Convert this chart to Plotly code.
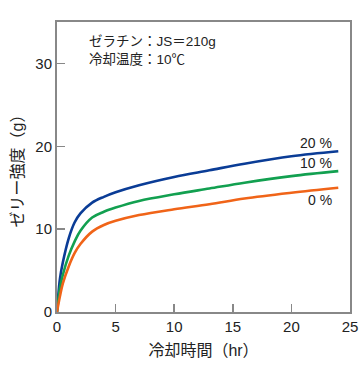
import plotly.graph_objects as go

t = [0, 0.25, 0.5, 1, 1.5, 2, 3, 4, 5, 7, 10, 13, 16, 20, 24]
s20 = [0, 4.0, 6.0, 8.9, 10.8, 11.9, 13.2, 13.9, 14.45, 15.3, 16.3, 17.1, 17.9, 18.8, 19.4]
s10 = [0, 2.9, 4.5, 6.8, 8.5, 9.8, 11.4, 12.1, 12.6, 13.4, 14.2, 14.9, 15.6, 16.4, 17.0]
s0 = [0, 1.9, 3.45, 5.5, 7.1, 8.2, 9.7, 10.5, 11.0, 11.7, 12.4, 13.0, 13.7, 14.4, 15.0]
labels = ["20 %", "10 %", "0 %"]
colors = ["#0a3c96", "#12a050", "#f06418"]
x_ticks = [0, 5, 10, 15, 20, 25]
y_ticks = [0, 10, 20, 30]

FONT = "Liberation Sans, Arial, Noto Sans CJK JP"

fig = go.Figure()
for ys, c in zip([s20, s10, s0], colors):
    fig.add_trace(go.Scatter(x=t, y=ys, mode="lines",
                             line=dict(color=c, width=2.6, shape="spline", smoothing=1.0),
                             showlegend=False, hoverinfo="skip"))

label_y = [20.4, 18.0, 13.5]
for lab, ly in zip(labels, label_y):
    fig.add_annotation(x=23.6, y=ly, text=lab, showarrow=False, xanchor="right",
                       yanchor="middle", font=dict(size=14, color="#222", family=FONT))

fig.add_annotation(x=2.6, y=31.6, text="ゼラチン：JS＝210g<br>冷却温度：10℃",
                   showarrow=False, xanchor="left", yanchor="middle", align="left",
                   font=dict(size=13.5, color="#222", family=FONT))

axis_common = dict(showgrid=False, zeroline=False, showline=True, linecolor="#888",
                   linewidth=2, mirror=True, ticks="inside", ticklen=8, tickwidth=1.5,
                   tickcolor="#888", automargin=False,
                   tickfont=dict(size=15, color="#222", family=FONT))

fig.update_xaxes(range=[0, 25], tickvals=x_ticks,
                 title=dict(text="冷却時間（hr）", font=dict(size=16, color="#222", family=FONT),
                            standoff=11),
                 **axis_common)
fig.update_yaxes(range=[0, 35], tickvals=y_ticks,
                 title=dict(text="ゼリー強度（g）", font=dict(size=16, color="#222", family=FONT),
                            standoff=8),
                 **axis_common)

fig.update_layout(width=360, height=365, margin=dict(l=57, r=10, t=22, b=53),
                  plot_bgcolor="white", paper_bgcolor="white",
                  font=dict(family=FONT))

# remove the page's default body margin / scrollbars so the figure fills the window exactly
fig.write_html("out.html", config={"displayModeBar": False, "staticPlot": True},
               post_script="document.body.style.margin='0';document.body.style.overflow='hidden';")
